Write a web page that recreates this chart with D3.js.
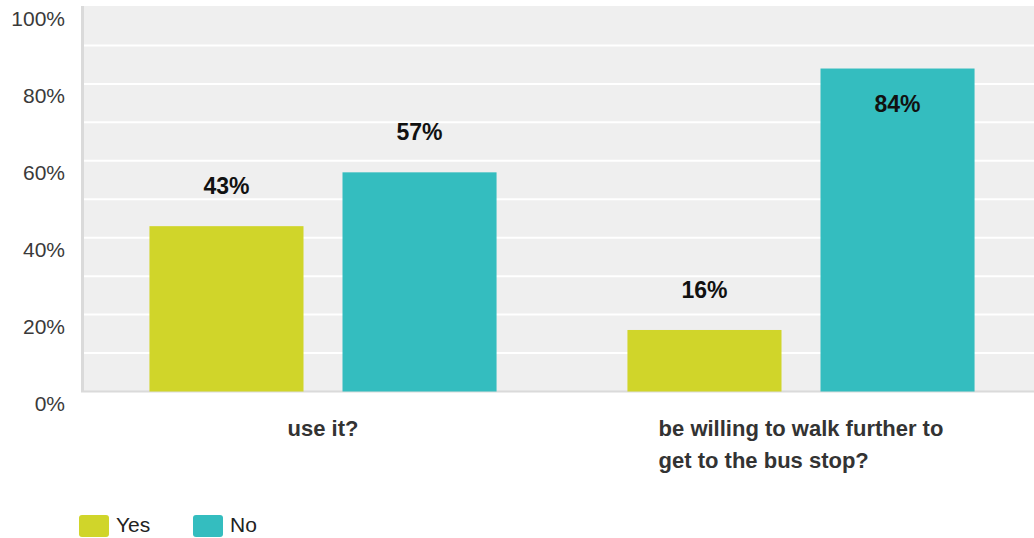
<!DOCTYPE html>
<html><head><meta charset="utf-8">
<script src="https://cdn.jsdelivr.net/npm/d3@7"></script>
<style>body{margin:0;background:#fff;}svg{display:block;font-family:"Liberation Sans",Arial,sans-serif;}</style>
</head><body><svg id="c" width="1034" height="538"></svg>
<script>
const categories = ["use it?", "be willing to walk further to get to the bus stop?"];
const seriesNames = ["Yes", "No"];
const yesValues = [0.43, 0.16];
const noValues = [0.57, 0.84];
const yTicks = [0, 0.2, 0.4, 0.6, 0.8, 1.0];
const gridTicks = [0.1,0.2,0.3,0.4,0.5,0.6,0.7,0.8,0.9];
const colors = ["#D0D52A", "#34BDBF"];

const svg = d3.select("#c");
const y = d3.scaleLinear().domain([0,1]).range([391.5, 7]);
const x0 = d3.scaleBand().domain(categories).range([84, 1040]).padding(0);
const x1 = d3.scaleBand().domain(seriesNames).range([0, x0.bandwidth()]).paddingInner(0.202).paddingOuter(0.339);
const color = d3.scaleOrdinal().domain(seriesNames).range(colors);

// plot background
svg.append("rect").attr("x",81).attr("y",6).attr("width",1034-81).attr("height",y(0)-6).attr("fill","#EFEFEF");
svg.append("rect").attr("x",81).attr("y",6).attr("width",3).attr("height",y(0)-6).attr("fill","#DADADA");
svg.append("rect").attr("x",81).attr("y",y(0)-1).attr("width",1034-81).attr("height",2).attr("fill","#DADADA");

// grid
svg.append("g").selectAll("line").data(gridTicks).join("line")
  .attr("x1",84).attr("x2",1034).attr("y1",d=>y(d)).attr("y2",d=>y(d))
  .attr("stroke","#fff").attr("stroke-width",2);

// y axis labels
const yAxis = d3.axisLeft(y).tickValues(yTicks).tickFormat(d3.format(".0%")).tickSize(0).tickPadding(0);
const ga = svg.append("g").attr("transform","translate(65,0)").call(yAxis);
ga.select(".domain").remove();
ga.selectAll("text").attr("font-size",21).attr("fill","#3a3a3a").attr("font-family","Liberation Sans, Arial, sans-serif").attr("dy","0.9em");

const data = categories.map((c,i)=>({cat:c, vals:[{s:"Yes",v:yesValues[i]},{s:"No",v:noValues[i]}]}));
const groups = svg.append("g").selectAll("g").data(data).join("g")
  .attr("transform",d=>`translate(${x0(d.cat)},0)`);
groups.selectAll("rect").data(d=>d.vals).join("rect")
  .attr("x",d=>x1(d.s)).attr("width",x1.bandwidth())
  .attr("y",d=>y(d.v)).attr("height",d=>y(0)-y(d.v)).attr("fill",d=>color(d.s));
groups.selectAll("text.v").data(d=>d.vals).join("text").attr("class","v")
  .attr("x",d=>x1(d.s)+x1.bandwidth()/2)
  .attr("y",d=> d.v>0.8 ? y(d.v)+35+8 : y(d.v)-40+8)
  .attr("text-anchor","middle").attr("font-size",23).attr("font-weight","bold").attr("fill","#111")
  .text(d=>Math.round(d.v*100)+"%");

// category labels (wrapped, block centered, lines left-aligned)
const catLines = [["use it?"],["be willing to walk further to","get to the bus stop?"]];
categories.forEach((c,i)=>{
  const t = svg.append("text").attr("font-size",22).attr("font-weight","bold").attr("fill","#333");
  catLines[i].forEach((ln,j)=>{
    t.append("tspan").attr("x",0).attr("y",436+j*32).text(ln);
  });
  const w = t.node().getBBox().width;
  const cx = x0(c)+x0.bandwidth()/2;
  t.attr("transform",`translate(${cx - w/2},0)`);
});

// legend
const lg = svg.append("g").selectAll("g").data(seriesNames).join("g")
  .attr("transform",(d,i)=>`translate(${79+i*114},515)`);
lg.append("rect").attr("width",30).attr("height",22).attr("rx",3).attr("fill",d=>color(d));
lg.append("text").attr("x",37).attr("y",17).attr("font-size",21).attr("fill","#222").text(d=>d);
</script></body></html>
